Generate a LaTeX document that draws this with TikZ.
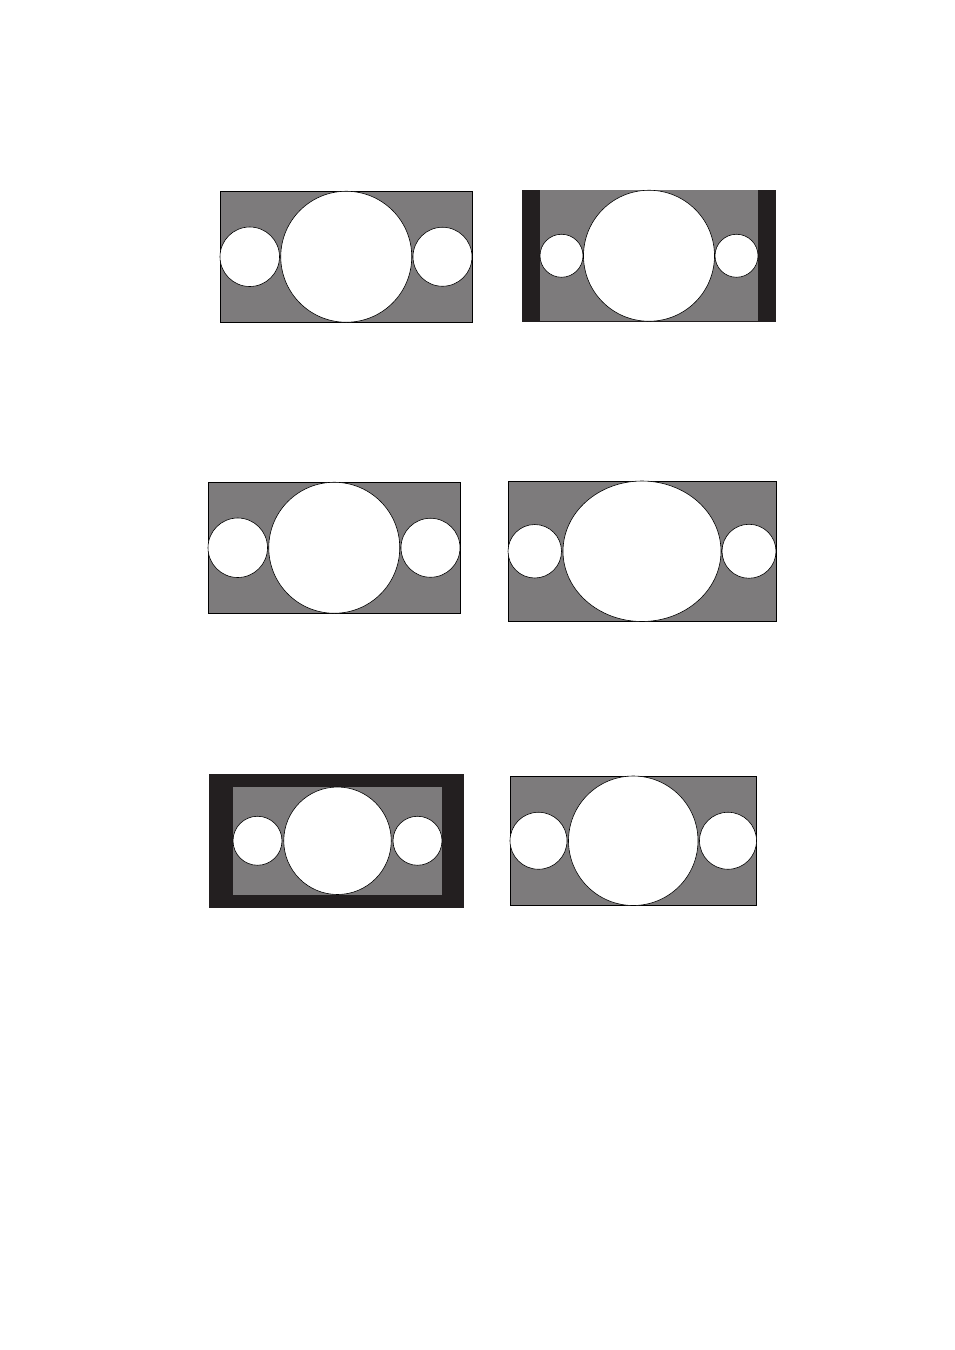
\documentclass[tikz,border=0pt]{standalone}
\usepackage{tikz}
\usepackage{tkz-euclide}
\definecolor{screengray}{HTML}{7D7B7C}
\definecolor{barblack}{HTML}{231F20}
\tikzset{panel/.style={draw=black,fill=screengray,line width=0.7pt},
bars/.style={draw=barblack,fill=barblack,line width=0.7pt},
disc/.style={draw=black,fill=white,line width=0.6pt}}

\begin{document}
\begin{tikzpicture}[x=1pt,y=-1pt]
\fill[white](0,0)rectangle(954,1350);
\useasboundingbox(0,0)rectangle(954,1350);
\tkzDefPoints{249.75/256.75/L1,346.25/256.75/O1,442.5/256.75/R1,
561.5/255.75/L2,649/255.75/O2,736.5/255.75/R2,
237.75/547.75/L3,334.25/547.75/O3,430.5/547.75/R3,
534.75/551.25/L4,642/551.25/O4,749/551.25/R4,
257.5/840.75/L5,337.5/840.75/O5,417.5/840.75/R5,
538.5/840.75/L6,633.25/840.75/O6,728/840.75/R6}
% top row
\draw[panel](220,191)rectangle(472,322.5);
\draw[disc](L1)circle[radius=29.75pt](O1)circle[radius=65.5pt]
(R1)circle[radius=29.5pt];
\draw[bars](522.5,190)rectangle(775,321.5);
\fill[screengray](540,190.35)rectangle(758,321.15);
\draw[disc](L2)circle[radius=21.5pt](O2)circle[radius=65.5pt]
(R2)circle[radius=21.5pt];
% middle row
\draw[panel](208,482)rectangle(460,613.5);
\draw[disc](L3)circle[radius=29.75pt](O3)circle[radius=65.5pt]
(R3)circle[radius=29.5pt];
\draw[panel](508,481)rectangle(776,621.5);
\draw[disc](L4)circle[radius=26.75pt](O4)ellipse[x radius=79pt,y radius=70.25pt]
(R4)circle[radius=27pt];
% bottom row
\draw[bars](209,774)rectangle(463.5,907.5);
\fill[screengray](233,787)rectangle(442,894.5);
\draw[disc](L5)circle[radius=24.5pt](O5)circle[radius=53.75pt]
(R5)circle[radius=24.5pt];
\draw[panel](510,776)rectangle(756.5,905.5);
\draw[disc](L6)circle[radius=28.5pt](O6)circle[radius=64.75pt]
(R6)circle[radius=28.5pt];
\end{tikzpicture}
\end{document}
